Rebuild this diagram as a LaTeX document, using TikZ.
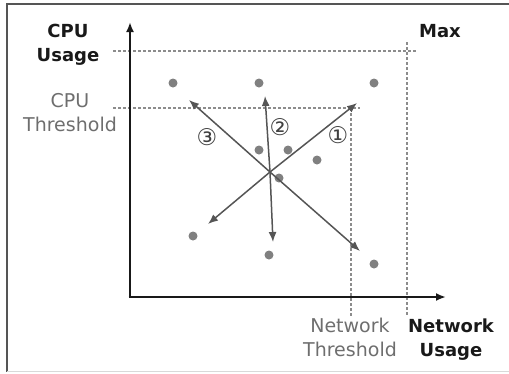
\documentclass[tikz,border=0pt]{standalone}
\usepackage{fontspec}
\setmainfont{DejaVu Sans}
\usetikzlibrary{arrows.meta}

\definecolor{inkgray}{HTML}{555555}
\definecolor{dotgray}{HTML}{808080}
\definecolor{limitgray}{HTML}{6E6E6E}
\definecolor{guidegray}{HTML}{8C8C8C}

\tikzset{
	axis/.style={line width=2.6pt, black!90, -{Latex[length=10pt,width=8pt]}},
	guide/.style={guidegray, line width=1.1pt, dash pattern=on 3pt off 2pt},
	move/.style={inkgray, line width=1.5pt, -{Latex[length=10pt,width=8pt]}},
	axislabel/.style={align=center, inner sep=0pt, anchor=base, text=black!90,
		font=\bfseries\fontsize{18}{24}\selectfont},
	limitlabel/.style={align=center, inner sep=0pt, anchor=base, text=limitgray,
		font=\fontsize{19}{24}\selectfont},
	tag/.style={inner sep=0pt, text=black!75, font=\fontsize{23}{23}\selectfont}
}

\begin{document}
\begin{tikzpicture}[x=1pt, y=-1pt]
		\useasboundingbox (0,0) rectangle (509,373);

		\draw[inkgray, line width=2pt] (509,4) -- (7,4) -- (7,372);
		\draw[gray!30, line width=1pt] (7,371.5) -- (509,371.5);

		\coordinate (orig) at (130,297);
		\coordinate (ytop) at (130,22);
		\coordinate (xend) at (446,297);

		\draw[guide] (113,51) -- (417,51);
		\draw[guide] (113,108) -- (360,108);
		\draw[guide] (407,42) -- (407,315);
		\draw[guide] (351,108) -- (351,317);

		\draw[axis] ([yshift=1.3pt]orig) -- (ytop);
		\draw[axis] ([xshift=-1.3pt]orig) -- (xend);

		\node[axislabel] (cpuusage) at (68,61) {CPU\\Usage};
		\node[limitlabel] (cputhr) at (70,131) {CPU\\Threshold};
		\node[axislabel] (maxlbl) at (440,37) {Max};
		\node[limitlabel] (netthr) at (350,356) {Network\\Threshold};
		\node[axislabel] (netusage) at (451,356) {Network\\Usage};

		\foreach \x/\y in {173/83, 259/83, 374/83, 259/150, 288/150, 317/160,
			279/178, 193/236, 269/255, 374/264}
			\fill[dotgray] (\x,\y) circle (4.5);

		\coordinate (o) at (270,172);
		\coordinate (up1) at (357,103);
		\coordinate (dn1) at (208,224);
		\coordinate (up2) at (265,96);
		\coordinate (dn2) at (273,242);
		\coordinate (up3) at (189,100);
		\coordinate (dn3) at (360,251);

		\foreach \i in {1,2,3} {
			\draw[move] (o) -- (up\i);
			\draw[move] (o) -- (dn\i);
		}

		\node[tag] (tag1) at (338,135) {①};
		\node[tag] (tag2) at (280,127) {②};
		\node[tag] (tag3) at (207,137) {③};
	\end{tikzpicture}
\end{document}
